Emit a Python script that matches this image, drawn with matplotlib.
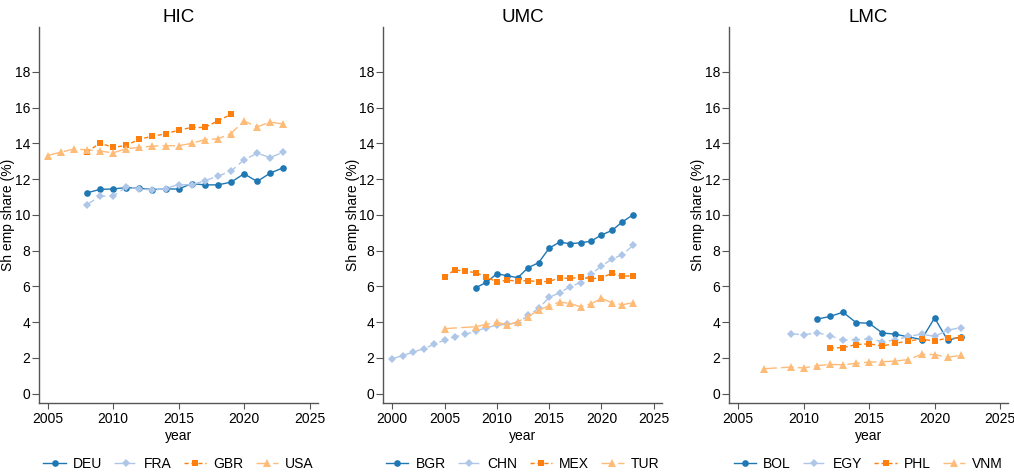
import matplotlib.pyplot as plt

plt.rcParams['font.family'] = ['Liberation Sans', 'DejaVu Sans']
plt.rcParams['font.size'] = 10

# HIC
deu_years = list(range(2008, 2024))
deu_share = [11.23, 11.43, 11.45, 11.53, 11.49, 11.42, 11.45, 11.45, 11.75, 11.68,
             11.68, 11.83, 12.30, 11.87, 12.34, 12.64]
fra_years = list(range(2008, 2024))
fra_share = [10.58, 11.04, 11.06, 11.55, 11.47, 11.38, 11.47, 11.70, 11.68, 11.91,
             12.17, 12.45, 13.08, 13.45, 13.21, 13.51]
gbr_years = list(range(2008, 2020))
gbr_share = [13.51, 14.02, 13.77, 13.89, 14.23, 14.40, 14.53, 14.74, 14.89, 14.89,
             15.26, 15.62]
usa_years = list(range(2005, 2024))
usa_share = [13.32, 13.51, 13.68, 13.64, 13.57, 13.47, 13.70, 13.77, 13.85, 13.87,
             13.87, 14.00, 14.21, 14.26, 14.55, 15.25, 14.92, 15.19, 15.08]

# UMC
bgr_years = list(range(2008, 2024))
bgr_share = [5.93, 6.23, 6.71, 6.60, 6.49, 7.05, 7.33, 8.14, 8.48, 8.39, 8.44, 8.53,
             8.88, 9.13, 9.61, 10.0]
chn_years = list(range(2000, 2024))
chn_share = [1.96, 2.13, 2.33, 2.52, 2.76, 3.00, 3.19, 3.32, 3.51, 3.69, 3.84, 3.88,
             3.97, 4.38, 4.77, 5.39, 5.65, 5.98, 6.22, 6.69, 7.13, 7.54, 7.77, 8.29]
mex_years = list(range(2005, 2024))
mex_share = [6.54, 6.93, 6.84, 6.78, 6.52, 6.26, 6.35, 6.30, 6.33, 6.26, 6.28, 6.48,
             6.45, 6.52, 6.43, 6.48, 6.74, 6.56, 6.61]
tur_years = [2005] + list(range(2008, 2024))
tur_share = [3.64, 3.75, 3.88, 4.01, 3.84, 4.03, 4.31, 4.68, 4.92, 5.13, 5.05, 4.86,
             5.03, 5.33, 5.09, 4.98, 5.09]

# LMC
bol_years = list(range(2011, 2023))
bol_share = [4.17, 4.32, 4.56, 3.98, 3.94, 3.40, 3.33, 3.18, 3.03, 4.24, 2.99, 3.18]
egy_years = list(range(2009, 2023))
egy_share = [3.36, 3.29, 3.42, 3.25, 2.99, 3.02, 3.08, 2.92, 3.00, 3.21, 3.33, 3.21,
             3.55, 3.70]
phl_years = list(range(2012, 2023))
phl_share = [2.56, 2.58, 2.75, 2.79, 2.67, 2.82, 2.95, 3.05, 2.95, 3.12, 3.10]
vnm_years = [2007] + list(range(2009, 2023))
vnm_share = [1.40, 1.49, 1.44, 1.57, 1.64, 1.62, 1.70, 1.77, 1.79, 1.83, 1.91, 2.20,
             2.19, 2.04, 2.15]

panels = [
    ('HIC', [('DEU', deu_years, deu_share), ('FRA', fra_years, fra_share),
             ('GBR', gbr_years, gbr_share), ('USA', usa_years, usa_share)],
     (2004.34, 2025.64), [2005, 2010, 2015, 2020, 2025]),
    ('UMC', [('BGR', bgr_years, bgr_share), ('CHN', chn_years, chn_share),
             ('MEX', mex_years, mex_share), ('TUR', tur_years, tur_share)],
     (1999.15, 2025.8), [2000, 2005, 2010, 2015, 2020, 2025]),
    ('LMC', [('BOL', bol_years, bol_share), ('EGY', egy_years, egy_share),
             ('PHL', phl_years, phl_share), ('VNM', vnm_years, vnm_share)],
     (2004.3, 2025.6), [2005, 2010, 2015, 2020, 2025]),
]

styles = [
    dict(color='#1f77b4', marker='o', linestyle='-', markersize=4.8),
    dict(color='#aec7e8', marker='D', linestyle=(0, (6, 3)), markersize=4.5),
    dict(color='#ff7f0e', marker='s', linestyle=(0, (3, 2)), markersize=4.8),
    dict(color='#ffbb78', marker='^', linestyle=(0, (9, 3)), markersize=5.3),
]

fig = plt.figure(figsize=(10.14, 4.76), dpi=100)
lefts = [0.0385, 0.378, 0.719]
width = 0.275
axis_col = '#555555'

for left, (title, series, xlim, xticks) in zip(lefts, panels):
    ax = fig.add_axes([left, 0.154, width, 0.789])
    for (name, yrs, vals), st in zip(series, styles):
        ax.plot(yrs, vals, label=name, linewidth=1.0,
                markeredgewidth=0, **st)
    ax.set_xlim(*xlim)
    ax.set_ylim(-0.5, 20.5)
    ax.set_xticks(xticks)
    ax.set_yticks(range(0, 19, 2))
    ax.set_title(title, fontsize=13.5, pad=4)
    ax.set_xlabel('year', fontsize=10, labelpad=2)
    ax.set_ylabel('Sh emp share (%)', fontsize=10)
    ax.yaxis.set_label_coords(-0.085, 0.5)
    for s in ['top', 'right']:
        ax.spines[s].set_visible(False)
    for s in ['left', 'bottom']:
        ax.spines[s].set_color(axis_col)
        ax.spines[s].set_linewidth(1.0)
    ax.tick_params(axis='y', direction='out', length=5, width=0.8,
                   color=axis_col, labelsize=10, pad=1.5)
    ax.tick_params(axis='x', direction='out', length=4, width=0.8,
                   color=axis_col, labelsize=10, pad=3)
    ax.legend(loc='center', bbox_to_anchor=(0.5, -0.163), ncol=4,
              frameon=False, fontsize=10, handlelength=1.6, columnspacing=0.9,
              handletextpad=0.5)

plt.savefig('out.png', dpi=100)
